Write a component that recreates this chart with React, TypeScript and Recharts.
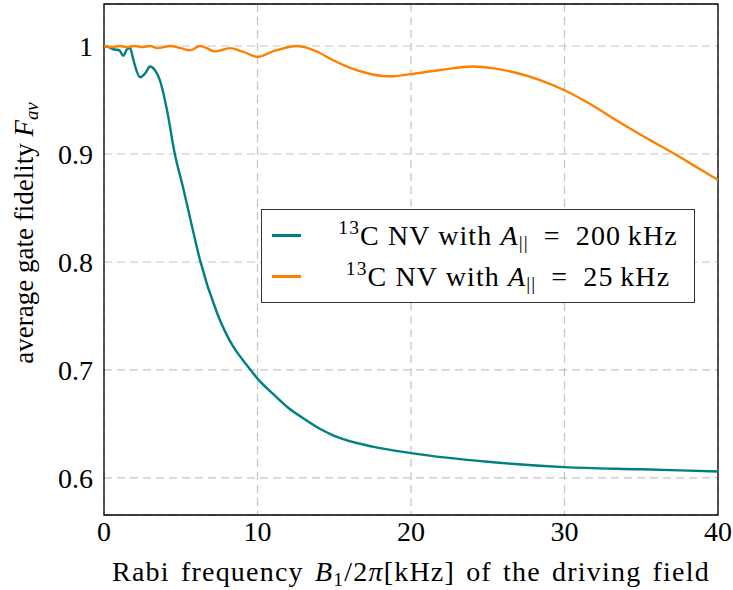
import { CartesianGrid, Legend, Line, LineChart, ReferenceArea, XAxis, YAxis } from "recharts";

// Rabi frequency B1/2π [kHz] and average gate fidelity, A|| = 200 kHz
const rabi200 = [0, 0.3, 0.6, 1.0, 1.25, 1.5, 1.7, 1.9, 2.1, 2.35, 2.7, 3.0, 3.3, 3.65, 4.1, 4.6, 5.15, 5.7, 6.25, 7.36, 8.4, 9, 9.5, 10, 11, 12, 13, 14, 15, 17.5, 20, 25, 30, 35, 40];
const fid200 = [1.0, 0.999, 0.997, 0.996, 0.991, 0.997, 0.998, 0.988, 0.978, 0.971, 0.975, 0.981, 0.978, 0.968, 0.941, 0.901, 0.869, 0.835, 0.802, 0.753, 0.722, 0.71, 0.701, 0.692, 0.678, 0.665, 0.655, 0.646, 0.639, 0.629, 0.623, 0.615, 0.61, 0.608, 0.606];

// A|| = 25 kHz
const rabi25 = [0, 0.5, 1, 1.5, 2, 2.5, 3, 3.5, 4.3, 5, 5.6, 6.25, 6.7, 7.2, 8.2, 9, 10, 11, 12.6, 14, 14.9, 16, 17.1, 18, 18.8, 20, 22, 24, 25.5, 26.9, 28.5, 30, 31.7, 33.4, 35.3, 37.3, 38.7, 40];
const fid25 = [1.0, 0.999, 1.0, 0.999, 1.0, 0.999, 1.0, 0.998, 1.0, 0.998, 0.996, 1.0, 0.998, 0.995, 0.998, 0.995, 0.99, 0.995, 1.0, 0.994, 0.987, 0.98, 0.975, 0.9725, 0.972, 0.974, 0.978, 0.981, 0.979, 0.975, 0.968, 0.959, 0.946, 0.931, 0.915, 0.899, 0.887, 0.876];

const couplings = ["200", "25"];
const xTicks = [0, 10, 20, 30, 40];
const yTicks = [0.6, 0.7, 0.8, 0.9, 1];

const series200 = rabi200.map((x, i) => ({ x, f: fid200[i] }));
const series25 = rabi25.map((x, i) => ({ x, f: fid25[i] }));

const font = "'Liberation Serif', serif";
const Y_MIN = 0.5657;
const Y_MAX = 1.0389;
const innerTick = { stroke: "#333", strokeWidth: 1.3 };

const subStyle = { fontSize: "0.7em", position: "relative" as const, top: "0.25em" };
const supStyle = { fontSize: "0.7em", position: "relative" as const, top: "-0.55em" };

function LegendLabel({ coupling }: { coupling: string }) {
  return (
    <span>
      <span style={supStyle}>13</span>C NV with <i>A</i>
      <span style={subStyle}>||</span>
      {"\u2002=\u2002"}
      {coupling}
      {"\u2009"}kHz
    </span>
  );
}

function FidelityLegend({ payload }: any) {
  return (
    <div
      style={{
        border: "1.5px solid #333",
        background: "#fff",
        padding: "5px 6px 5px 10px",
        fontFamily: font,
        fontSize: 28,
        letterSpacing: 1.1,
        color: "#000",
      }}
    >
      {(payload || []).map((entry: any, i: number) => (
        <div key={entry.value} style={{ display: "flex", alignItems: "center", height: 41 }}>
          <span style={{ width: 29, borderTop: `3px solid ${entry.color}` }} />
          <span style={{ width: 360, marginLeft: 27, textAlign: "center", whiteSpace: "nowrap" }}>
            <LegendLabel coupling={couplings[i]} />
          </span>
        </div>
      ))}
    </div>
  );
}

export default function App() {
  const tickStyle = { fill: "#000", fontSize: 28, fontFamily: font };
  return (
    <div style={{ position: "absolute", left: 0, top: 0, width: 733, height: 590, background: "#fff" }}>
      <LineChart width={733} height={590} margin={{ top: 4, right: 15, bottom: 0, left: 0 }}>
        <CartesianGrid stroke="#c4c4c4" strokeDasharray="8 5" strokeWidth={1.2} />
        <XAxis
          xAxisId="bottomTicks"
          type="number"
          dataKey="x"
          domain={[0, 40]}
          ticks={xTicks}
          mirror
          height={0}
          tickSize={5}
          tickLine={innerTick}
          axisLine={false}
          tickFormatter={() => ""}
        />
        <XAxis
          type="number"
          dataKey="x"
          domain={[0, 40]}
          ticks={xTicks}
          height={75}
          tickLine={false}
          tickSize={0}
          tickMargin={6}
          axisLine={false}
          tick={tickStyle}
        />
        <XAxis
          xAxisId="top"
          type="number"
          dataKey="x"
          domain={[0, 40]}
          ticks={xTicks}
          orientation="top"
          mirror
          height={0}
          tickSize={5}
          tickLine={innerTick}
          axisLine={false}
          tickFormatter={() => ""}
        />
        <YAxis
          yAxisId="leftTicks"
          type="number"
          domain={[Y_MIN, Y_MAX]}
          ticks={yTicks}
          allowDataOverflow
          mirror
          width={0}
          tickSize={5}
          tickLine={innerTick}
          axisLine={false}
          tickFormatter={() => ""}
        />
        <YAxis
          type="number"
          domain={[Y_MIN, Y_MAX]}
          ticks={yTicks}
          allowDataOverflow
          width={104}
          tickLine={false}
          tickSize={0}
          tickMargin={11}
          axisLine={false}
          tick={tickStyle}
          tickFormatter={(v: number) => (v === 1 ? "1" : v.toFixed(1))}
        />
        <YAxis
          yAxisId="right"
          type="number"
          domain={[Y_MIN, Y_MAX]}
          ticks={yTicks}
          allowDataOverflow
          orientation="right"
          mirror
          width={0}
          tickSize={5}
          tickLine={innerTick}
          axisLine={false}
          tickFormatter={() => ""}
        />
        <ReferenceArea x1={0} x2={40} y1={Y_MIN} y2={Y_MAX} fill="none" stroke="#000" strokeWidth={1.3} ifOverflow="visible" />
        <Line
          data={series200}
          dataKey="f"
          name="A200"
          type="monotone"
          stroke="#008080"
          strokeWidth={2.4}
          dot={false}
          isAnimationActive={false}
        />
        <Line
          data={series25}
          dataKey="f"
          name="A25"
          type="monotone"
          stroke="#ff8000"
          strokeWidth={2.4}
          dot={false}
          isAnimationActive={false}
        />
        <Legend
          layout="vertical"
          align="center"
          verticalAlign="middle"
          content={<FidelityLegend />}
          wrapperStyle={{ left: 261, top: 209, width: "auto" }}
        />
      </LineChart>
      <div
        style={{
          position: "absolute",
          left: 24,
          top: 233,
          transform: "translate(-50%, -50%) rotate(-90deg)",
          whiteSpace: "nowrap",
          fontFamily: font,
          fontSize: 27,
          lineHeight: 1.2,
        }}
      >
        average gate fidelity <i>F</i>
        <i style={subStyle}>av</i>
      </div>
      <div
        style={{
          position: "absolute",
          left: 411,
          top: 556,
          transform: "translateX(-50%)",
          whiteSpace: "nowrap",
          fontFamily: font,
          fontSize: 28,
          letterSpacing: 1.2,
          wordSpacing: 3,
          lineHeight: "normal",
        }}
      >
        Rabi frequency <i>B</i>
        <span style={subStyle}>1</span>/2<i>π</i>[kHz] of the driving field
      </div>
    </div>
  );
}
